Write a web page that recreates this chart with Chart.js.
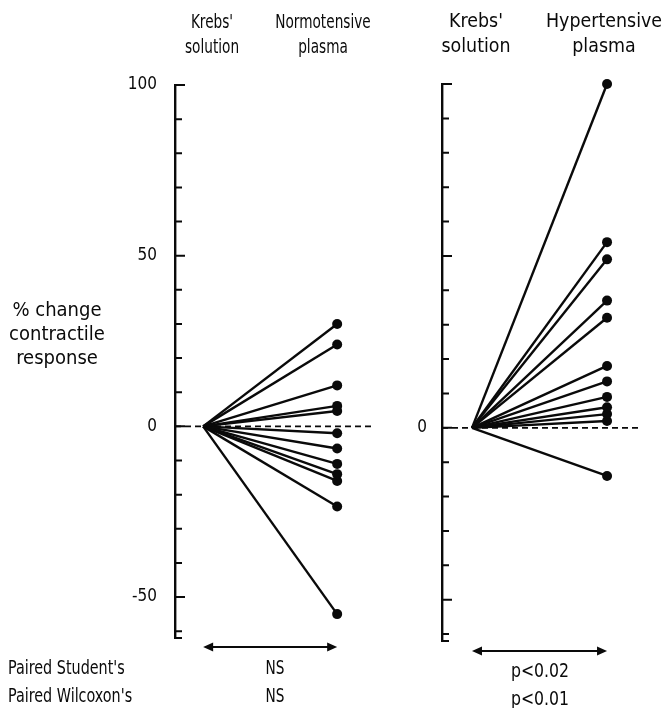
<!DOCTYPE html>
<html>
<head>
<meta charset="utf-8">
<script src="https://cdn.jsdelivr.net/npm/chart.js@4"></script>
<style>
    body { margin: 0; background: #fff; }
    #wrap { position: relative; width: 667px; height: 708px; overflow: hidden;
        font-family: "Liberation Sans Narrow", "DejaVu Sans Condensed", sans-serif; font-size: 19px; color: #0a0a0a; }
    canvas { position: absolute; top: 0; }
    .lbl { position: absolute; text-align: center; line-height: 25px; white-space: nowrap; transform: translateX(-50%) scaleX(0.8); }
    .lbl.wide { font-size: 20px; transform: translateX(-50%) scaleX(0.97); }
    .lbl.ylab { font-size: 20px; transform: translateX(-50%); }
    .lbl.stat { transform: translateX(-50%) scaleX(0.92); }
    .left { position: absolute; white-space: nowrap; line-height: 28px; transform-origin: 0 0; transform: scaleX(0.84); }
</style>
</head>
<body>
<div id="wrap">
    <canvas id="normChart" style="left:0px"></canvas>
    <canvas id="hyperChart" style="left:390px"></canvas>

    <div class="lbl" style="left:212px; top:9px">Krebs'<br>solution</div>
    <div class="lbl" style="left:323px; top:9px">Normotensive<br>plasma</div>
    <div class="lbl wide" style="left:476px; top:8px">Krebs'<br>solution</div>
    <div class="lbl wide" style="left:604px; top:8px">Hypertensive<br>plasma</div>

    <div class="lbl ylab" style="left:57px; top:297px; line-height:24px">% change<br>contractile<br>response</div>

    <div class="left" style="left:8px; top:653px">Paired Student's<br>Paired Wilcoxon's</div>
    <div class="lbl" style="left:275px; top:653px; line-height:28px">NS<br>NS</div>
    <div class="lbl stat" style="left:540px; top:656px; line-height:28px">p&lt;0.02<br>p&lt;0.01</div>
</div>

<script>
// % change in contractile response after plasma (one line per preparation)
const normotensive = [30, 24, 12, 6, 4.5, -2, -6.5, -11, -14, -16, -23.5, -55];
const hypertensive = [100, 54, 49, 37, 32, 18, 13.5, 9, 6, 4, 2, -14];

const yMin = -62;
const yMax = 100;
const majorTicks = [100, 50, 0, -50];

const ink = '#0a0a0a';

// inward tick marks, axis end brackets and the double arrow under each panel
const panelDecor = {
    id: 'panelDecor',
    afterDraw(chart, args, opts) {
        const { ctx, chartArea } = chart;
        const y = chart.scales.y;
        const x = chart.scales.x;
        const ax = chartArea.left;
        ctx.save();
        ctx.strokeStyle = ink;
        ctx.lineWidth = 2;
        ctx.beginPath();
        y.ticks.forEach(t => {
            const py = y.getPixelForValue(t.value);
            const len = majorTicks.includes(t.value) ? 10 : 7;
            ctx.moveTo(ax, py);
            ctx.lineTo(ax + len, py);
        });
        // bottom bracket
        ctx.moveTo(ax - 1, chartArea.bottom);
        ctx.lineTo(ax + 7, chartArea.bottom);
        ctx.stroke();

        // double headed arrow from Krebs' to plasma
        const x0 = x.getPixelForValue(0);
        const x1 = x.getPixelForValue(1);
        const ay = chartArea.bottom + opts.arrowGap;
        ctx.lineWidth = 1.8;
        ctx.beginPath();
        ctx.moveTo(x0 + 4, ay);
        ctx.lineTo(x1 - 4, ay);
        ctx.stroke();
        ctx.fillStyle = ink;
        ctx.beginPath();
        ctx.moveTo(x0, ay);
        ctx.lineTo(x0 + 10, ay - 4.5);
        ctx.lineTo(x0 + 10, ay + 4.5);
        ctx.closePath();
        ctx.moveTo(x1, ay);
        ctx.lineTo(x1 - 10, ay - 4.5);
        ctx.lineTo(x1 - 10, ay + 4.5);
        ctx.closePath();
        ctx.fill();
        ctx.restore();
    }
};

function makePanel(id, values, cfg) {
    const datasets = values.map(v => ({
        data: [{ x: 0, y: 0 }, { x: 1, y: v }],
        borderColor: ink,
        borderWidth: 2.4,
        pointRadius: [0, 5],
        pointBackgroundColor: ink,
        pointBorderWidth: 0,
        clip: false
    }));
    // dashed zero line
    datasets.push({
        data: [{ x: cfg.xMin, y: 0 }, { x: cfg.xMax, y: 0 }],
        borderColor: ink,
        borderWidth: 1.8,
        borderDash: [6, 4],
        pointRadius: 0
    });

    const canvas = document.getElementById(id);
    canvas.width = cfg.width;
    canvas.height = 708;
    canvas.style.width = cfg.width + 'px';
    canvas.style.height = '708px';

    return new Chart(canvas.getContext('2d'), {
        type: 'line',
        data: { datasets },
        options: {
            responsive: false,
            animation: false,
            events: [],
            layout: { padding: cfg.padding },
            plugins: {
                legend: { display: false },
                tooltip: { enabled: false },
                panelDecor: { arrowGap: cfg.arrowGap }
            },
            scales: {
                x: { type: 'linear', display: false, min: cfg.xMin, max: cfg.xMax },
                y: {
                    min: yMin,
                    max: yMax,
                    afterFit: s => { s.width = cfg.axisWidth; },
                    afterBuildTicks: s => {
                        s.ticks = [];
                        for (let v = 100; v >= -60; v -= 10) s.ticks.push({ value: v });
                    },
                    grid: { display: false, drawTicks: false },
                    border: { display: true, color: ink, width: 2.4 },
                    ticks: {
                        padding: cfg.labelPad,
                        color: ink,
                        font: { family: '"Liberation Sans Narrow", "DejaVu Sans Condensed", sans-serif', size: 17 },
                        callback: v => cfg.labels.includes(v) ? String(v) : ''
                    }
                }
            }
        },
        plugins: [panelDecor]
    });
}

makePanel('normChart', normotensive, {
    width: 390, axisWidth: 175, xMin: -0.21, xMax: 1.26,
    padding: { top: 85, bottom: 70, left: 0, right: 18 },
    labels: [100, 50, 0, -50], labelPad: 18, arrowGap: 9
});

makePanel('hyperChart', hypertensive, {
    width: 277, axisWidth: 52, xMin: -0.222, xMax: 1.244,
    padding: { top: 84, bottom: 67, left: 0, right: 27 },
    labels: [0], labelPad: 15, arrowGap: 10
});
</script>
</body>
</html>
